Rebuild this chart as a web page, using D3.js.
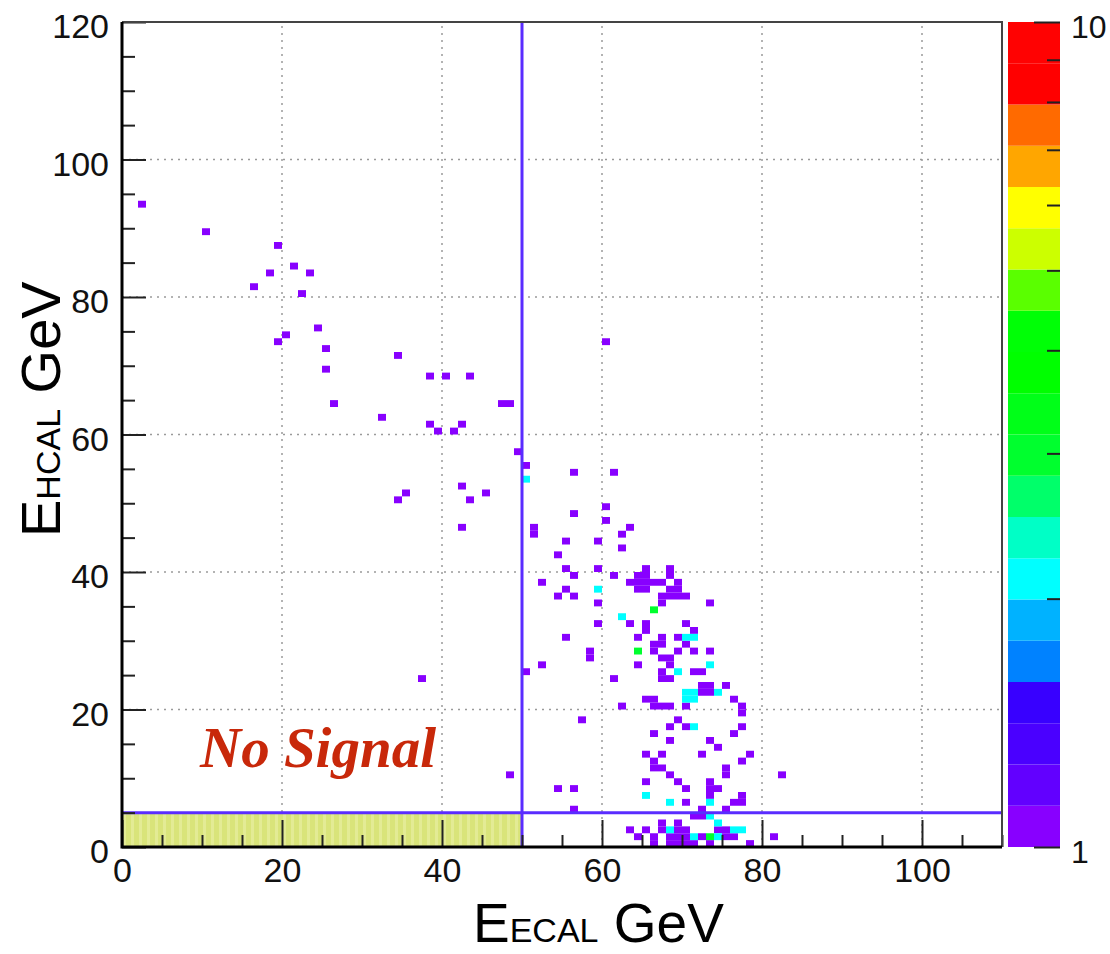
<!DOCTYPE html>
<html>
<head>
<meta charset="utf-8">
<script src="https://cdn.jsdelivr.net/npm/d3@7"></script>
<style>
  body { margin: 0; background: #fff; }
  svg { display: block; font-family: "Liberation Sans", Arial, sans-serif; }
</style>
</head>
<body>
<div id="chart"></div>
<script>
// 2D histogram bins [ECAL bin, HCAL bin], 1 GeV x 1 GeV, grouped by entries
const binsOne = [
  [2,93],[10,89],[19,87],[21,84],[18,83],[23,83],[16,81],[22,80],[24,75],[20,74],
  [19,73],[25,72],[25,69],[34,71],[26,64],[38,68],[40,68],[43,68],[47,64],[48,64],
  [32,62],[38,61],[39,60],[41,60],[42,61],[49,57],[50,55],[60,73],
  [34,50],[35,51],[42,52],[43,50],[45,51],[42,46],[37,24],[48,10],
  [56,54],[61,54],[60,49],[56,48],[60,47],[51,46],[51,45],[63,46],[62,45],[55,44],
  [59,44],[62,43],[54,42],[55,40],[59,40],[65,40],[68,40],[56,39],[61,39],[64,39],
  [65,39],[68,39],[52,38],[63,38],[64,38],[65,38],[66,38],[67,38],[69,38],[55,37],
  [64,37],[65,37],[68,37],[69,37],[54,36],[56,36],[67,36],[68,36],[69,36],[70,36],
  [59,35],[67,35],[73,35],[59,32],[63,32],[65,32],[70,32],[71,31],[65,31],
  [55,30],[64,30],[67,30],[69,30],
  [66,29],[67,29],[70,29],
  [58,28],[66,28],[69,28],[71,28],[73,28],
  [58,27],[67,27],[68,27],
  [52,26],[64,26],[68,26],
  [50,25],[67,25],[71,25],[72,25],
  [61,24],[67,24],[68,24],
  [72,23],[73,23],[75,23],
  [72,22],[73,22],
  [65,21],[66,21],[76,21],
  [62,20],[66,20],[67,20],[68,20],[70,20],[77,20],
  [77,19],
  [57,18],[69,18],
  [68,17],[70,17],[77,17],
  [66,16],[76,16],
  [68,15],[73,15],
  [74,14],
  [65,13],[67,13],[72,13],[78,13],
  [66,12],[77,12],
  [66,11],[67,11],[75,11],
  [68,10],[75,10],[82,10],
  [65,9],[69,9],[73,9],
  [54,8],[56,8],[70,8],[73,8],[74,8],
  [73,7],[77,7],
  [70,6],[76,6],[77,6],
  [56,5],[72,5],[75,5],
  [71,4],[72,4],
  [67,3],[69,3],
  [63,2],[65,2],[67,2],[69,2],[70,2],[74,2],[75,2],
  [64,1],[66,1],[68,1],[69,1],[70,1],[72,1],[75,1],[76,1],[81,1],
  [66,0],[68,0],[69,0],[70,0],[71,0],[73,0],[78,0]
];
const binsTwo = [
  [50,53],[59,37],[62,33],[70,30],[71,30],[73,26],[69,25],[70,22],[71,22],[74,22],
  [70,21],[71,21],[71,17],[65,7],[68,6],[73,6],[73,4],[74,3],[68,2],[76,2],[77,2],
  [71,1],[74,1]
];
const binsThree = [[66,34],[64,28],[73,1]];

const xTicks = [0, 20, 40, 60, 80, 100];
const yTicks = [0, 20, 40, 60, 80, 100, 120];
const zMinorTicks = [2, 3, 4, 5, 6, 7, 8, 9];
const zLabels = [1, 10];

// ROOT palette, 20 contour bands from bottom (1) to top (10)
const palette = [
  '#8800ff', '#6200ff', '#4a00ff', '#3800ff', '#0082ff',
  '#00b2ff', '#00ffff', '#00ffc6', '#00ff6a', '#00ff2e',
  '#00ff18', '#00ff00', '#00ff06', '#5aff00', '#ccff00',
  '#ffff00', '#ffa600', '#ff6a00', '#ff0000', '#ff0202'
];

const noSignalX = [0, 50];
const noSignalY = [0, 5];

const width = 1110, height = 954;
const plotL = 122, plotR = 1002, plotT = 22, plotB = 847;

const x = d3.scaleLinear().domain([0, 110]).range([plotL, plotR]);
const y = d3.scaleLinear().domain([0, 120]).range([plotB, plotT]);
const z = d3.scaleLog().domain([1, 10]).range([plotB, plotT]);

const bandColor = v => palette[Math.min(19, Math.floor(Math.log10(v) * 20 + 1e-9))];

const svg = d3.select('#chart').append('svg')
    .attr('width', width)
    .attr('height', height);

// hatch pattern for the "no signal" box
const defs = svg.append('defs');
const pat = defs.append('pattern')
    .attr('id', 'hatch')
    .attr('patternUnits', 'userSpaceOnUse')
    .attr('width', 8)
    .attr('height', 8);
pat.append('rect').attr('width', 8).attr('height', 8).attr('fill', '#d9e47a');
pat.append('rect').attr('x', 3).attr('width', 3).attr('height', 8).attr('fill', '#e3eb95');

// grid (dotted)
const grid = svg.append('g')
    .attr('stroke', '#9a9a9a')
    .attr('stroke-width', 1.5)
    .attr('stroke-dasharray', '2,5');
grid.selectAll('line.gx')
    .data(xTicks.filter(d => d > 0))
    .join('line')
      .attr('class', 'gx')
      .attr('x1', d => x(d)).attr('x2', d => x(d))
      .attr('y1', plotB).attr('y2', plotT);
grid.selectAll('line.gy')
    .data(yTicks.filter(d => d > 0 && d < 120))
    .join('line')
      .attr('class', 'gy')
      .attr('y1', d => y(d)).attr('y2', d => y(d))
      .attr('x1', plotL).attr('x2', plotR);

// histogram cells
const cells = [
  ...binsOne.map(d => ({ bx: d[0], by: d[1], n: 1 })),
  ...binsTwo.map(d => ({ bx: d[0], by: d[1], n: 2 })),
  ...binsThree.map(d => ({ bx: d[0], by: d[1], n: 3 }))
];
svg.append('g')
  .selectAll('rect')
  .data(cells)
  .join('rect')
    .attr('x', d => x(d.bx))
    .attr('y', d => y(d.by + 1))
    .attr('width', d => x(d.bx + 1) - x(d.bx))
    .attr('height', d => y(d.by) - y(d.by + 1))
    .attr('fill', d => bandColor(d.n));

// no signal region
svg.append('rect')
    .attr('x', x(noSignalX[0]))
    .attr('y', y(noSignalY[1]))
    .attr('width', x(noSignalX[1]) - x(noSignalX[0]))
    .attr('height', y(noSignalY[0]) - y(noSignalY[1]))
    .attr('fill', 'url(#hatch)');

// cut lines
svg.append('line')
    .attr('x1', x(noSignalX[1])).attr('x2', x(noSignalX[1]))
    .attr('y1', y(0)).attr('y2', y(120))
    .attr('stroke', '#5a2cff')
    .attr('stroke-width', 3);
svg.append('line')
    .attr('x1', x(0)).attr('x2', x(110))
    .attr('y1', y(noSignalY[1])).attr('y2', y(noSignalY[1]))
    .attr('stroke', '#5a2cff')
    .attr('stroke-width', 3);

// axes (ticks inside, ROOT style)
const minorX = d3.range(0, 111, 5).filter(d => d % 20 !== 0);
const minorY = d3.range(0, 121, 5).filter(d => d % 20 !== 0);

const xAxis = svg.append('g')
    .attr('transform', `translate(0,${plotB})`)
    .call(d3.axisBottom(x).tickValues(xTicks).tickSize(-27).tickPadding(11));
svg.append('g')
    .attr('transform', `translate(0,${plotB})`)
    .call(d3.axisBottom(x).tickValues(minorX).tickSize(-12).tickFormat(''));

const yAxis = svg.append('g')
    .attr('transform', `translate(${plotL},0)`)
    .call(d3.axisLeft(y).tickValues(yTicks).tickSize(-24).tickPadding(13));
svg.append('g')
    .attr('transform', `translate(${plotL},0)`)
    .call(d3.axisLeft(y).tickValues(minorY).tickSize(-13).tickFormat(''));

svg.selectAll('.domain').remove();
svg.selectAll('.tick line').attr('stroke', '#222').attr('stroke-width', 2);
xAxis.selectAll('text').style('font-size', '34px').attr('fill', '#111');
yAxis.selectAll('text').style('font-size', '34px').attr('fill', '#111').attr('dy', '0.47em');

// frame
svg.append('path')
    .attr('d', `M${plotL},${plotT} H${plotR} V${plotB}`)
    .attr('fill', 'none')
    .attr('stroke', '#444')
    .attr('stroke-width', 2);
svg.append('path')
    .attr('d', `M${plotL},${plotT} V${plotB} H${plotR}`)
    .attr('fill', 'none')
    .attr('stroke', '#000')
    .attr('stroke-width', 3);

// colour bar
const barX = 1008, barW = 52;
svg.append('g')
  .selectAll('rect')
  .data(palette)
  .join('rect')
    .attr('x', barX)
    .attr('width', barW)
    .attr('y', (d, i) => z(Math.pow(10, (i + 1) / 20)))
    .attr('height', (d, i) => z(Math.pow(10, i / 20)) - z(Math.pow(10, (i + 1) / 20)))
    .attr('fill', d => d);

const zAxis = svg.append('g')
    .attr('transform', `translate(${barX + barW},0)`)
    .call(d3.axisRight(z).tickValues(zLabels).tickSize(-26).tickPadding(11).tickFormat(d3.format('d')));
svg.append('g')
    .attr('transform', `translate(${barX + barW},0)`)
    .call(d3.axisRight(z).tickValues(zMinorTicks).tickSize(-13).tickFormat(''));
svg.selectAll('.domain').remove();
svg.selectAll('.tick line').attr('stroke', '#222').attr('stroke-width', 2);
zAxis.selectAll('text').style('font-size', '32px').attr('fill', '#111').attr('dy', '0.47em');

// axis titles: main letter, subscript, unit as separate pieces
function title(g, parts) {
  let pos = 0;
  parts.forEach(([txt, size]) => {
    const t = g.append('text')
        .attr('x', pos)
        .attr('fill', '#000')
        .style('font-size', size + 'px')
        .text(txt);
    pos += t.node().getComputedTextLength();
  });
}
const xTitle = svg.append('g').attr('transform', 'translate(473,942)');
title(xTitle, [['E', 55], ['ECAL', 34], ['\u00a0GeV', 55]]);

const yTitle = svg.append('g').attr('transform', 'translate(60,537) rotate(-90)');
title(yTitle, [['E', 56], ['HCAL', 34], ['\u00a0GeV', 56]]);

// label
svg.append('text')
    .attr('x', 200)
    .attr('y', 767)
    .attr('fill', '#c8280a')
    .style('font-family', '"Liberation Serif", "Times New Roman", serif')
    .style('font-style', 'italic')
    .style('font-weight', 'bold')
    .style('font-size', '57px')
    .text('No Signal');
</script>
</body>
</html>
